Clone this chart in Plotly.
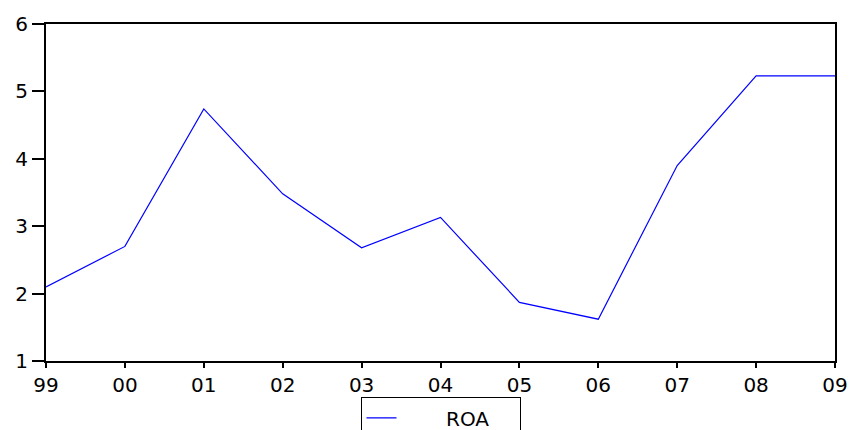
import plotly.graph_objects as go

years = ["99", "00", "01", "02", "03", "04", "05", "06", "07", "08", "09"]
roa = [2.10, 2.70, 4.74, 3.48, 2.68, 3.13, 1.87, 1.62, 3.90, 5.23, 5.23]
y_ticks = [1, 2, 3, 4, 5, 6]

xpos = list(range(len(years)))
NB = "\u00a0"

fig = go.Figure()
fig.add_trace(go.Scatter(x=xpos, y=roa, mode="lines",
                         name=NB * 7 + "ROA" + NB * 4,
                         line=dict(color="#0000FF", width=1.2)))

font = dict(family="DejaVu Sans, Liberation Sans, sans-serif", size=20, color="black")

fig.update_layout(
    width=850, height=460,
    margin=dict(l=46, r=15, t=24, b=99),
    paper_bgcolor="white", plot_bgcolor="white",
    font=font,
    showlegend=True,
    legend=dict(orientation="h", x=0.5, xanchor="center", y=-0.108, yanchor="top",
                bordercolor="black", borderwidth=1,
                font=dict(family=font["family"], size=20, color="black"),
                itemwidth=30),
)
fig.update_xaxes(range=[0, len(years) - 1], tickvals=xpos, ticktext=years,
                 showgrid=False, zeroline=False, showline=True, linecolor="black",
                 linewidth=2, mirror=True, ticks="outside", ticklen=5,
                 tickcolor="black", tickwidth=1.5, tickfont=font, automargin=False)
fig.update_yaxes(range=[1, 6], tickvals=y_ticks, showgrid=False, zeroline=False,
                 showline=True, linecolor="black", linewidth=2, mirror=True,
                 ticks="outside", ticklen=12, tickcolor="black", tickwidth=1.5,
                 tickfont=font, automargin=False)

fig.write_html(
    "out.html",
    config={"displayModeBar": False},
    post_script="document.body.style.margin='0';"
                "document.documentElement.style.overflow='hidden';"
                "document.body.style.overflow='hidden';",
)
